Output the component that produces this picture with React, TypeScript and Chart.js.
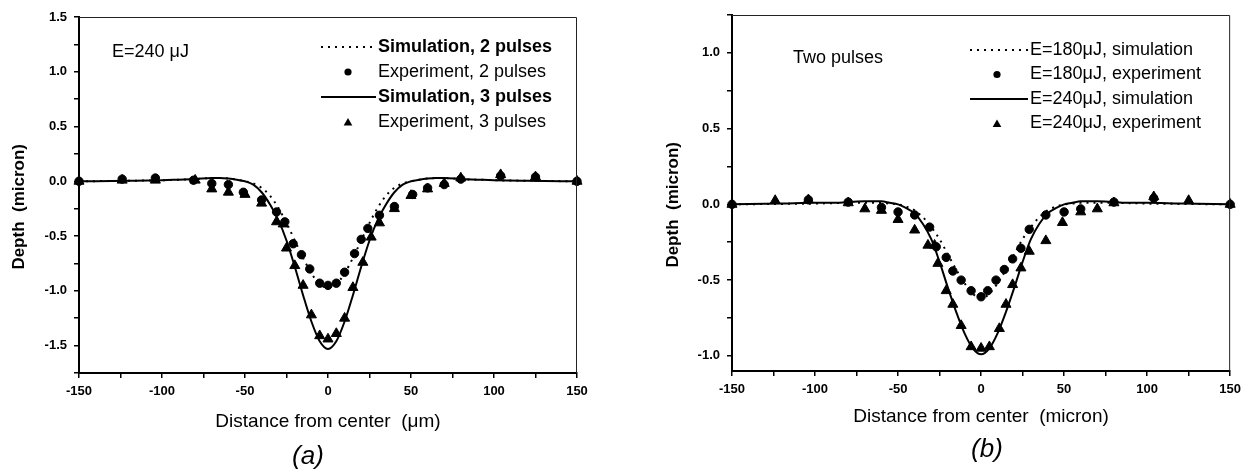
import React, { useEffect, useRef } from 'react';
import { Chart, registerables } from 'chart.js';

Chart.register(...registerables);

const FONT = "'Liberation Sans', Arial, Helvetica, sans-serif";

// ---------- Panel (a): E = 240 uJ ----------
const SIM_X_A = [-150, -120, -100, -90, -80, -70, -65, -60, -55, -50, -45, -40, -35, -30, -25, -20, -15, -10, -5, 0, 5, 10, 15, 20, 25, 30, 35, 40, 45, 50, 55, 60, 65, 70, 80, 90, 100, 120, 150];
const SIM2_Y_A = [0, 0.005, 0.01, 0.015, 0.02, 0.03, 0.03, 0.025, 0.015, 0, -0.02, -0.06, -0.13, -0.24, -0.38, -0.54, -0.7, -0.84, -0.94, -0.97, -0.94, -0.84, -0.7, -0.54, -0.38, -0.24, -0.13, -0.06, -0.02, 0, 0.015, 0.025, 0.03, 0.03, 0.02, 0.015, 0.01, 0.005, 0];
const SIM3_Y_A = [0, 0.005, 0.01, 0.015, 0.02, 0.03, 0.03, 0.025, 0.015, 0, -0.03, -0.1, -0.21, -0.35, -0.54, -0.78, -1.04, -1.28, -1.46, -1.53, -1.46, -1.28, -1.04, -0.78, -0.54, -0.35, -0.21, -0.1, -0.03, 0, 0.015, 0.025, 0.03, 0.03, 0.02, 0.015, 0.01, 0.005, 0];
const EXP2_X_A = [-150, -124, -104, -81, -70, -60, -51, -40, -31, -26, -21, -16, -11, -5, 0, 5, 10, 16, 20, 24, 31, 40, 51, 60, 70, 80, 104, 125, 150];
const EXP2_Y_A = [0, 0.02, 0.03, 0.01, -0.02, -0.03, -0.1, -0.17, -0.28, -0.37, -0.57, -0.67, -0.8, -0.93, -0.95, -0.93, -0.83, -0.66, -0.53, -0.43, -0.31, -0.23, -0.12, -0.06, -0.03, 0.02, 0.05, 0.04, 0];
const EXP3_X_A = [-150, -124, -104, -80, -70, -60, -50, -40, -31, -27, -25, -20, -15, -10, -5, 0, 5, 10, 15, 21, 26, 31, 40, 50, 60, 70, 80, 104, 125, 150];
const EXP3_Y_A = [0, 0.01, 0.01, 0.01, -0.07, -0.1, -0.12, -0.2, -0.37, -0.39, -0.61, -0.77, -0.95, -1.22, -1.41, -1.44, -1.39, -1.25, -0.97, -0.74, -0.51, -0.38, -0.25, -0.13, -0.07, -0.02, 0.03, 0.06, 0.04, 0];
const LABELS_A = ['Simulation, 2 pulses', 'Experiment, 2 pulses', 'Simulation, 3 pulses', 'Experiment, 3 pulses'];
const Y_MAJOR_A = [-1.5, -1.0, -0.5, 0, 0.5, 1.0, 1.5];

// ---------- Panel (b): two pulses ----------
const SIM_X_B = [-150, -120, -100, -90, -80, -70, -65, -60, -55, -50, -45, -40, -35, -30, -25, -20, -15, -10, -5, 0, 5, 10, 15, 20, 25, 30, 35, 40, 45, 50, 55, 60, 65, 70, 80, 90, 100, 120, 150];
const SIM180_Y_B = [0, 0.003, 0.005, 0.008, 0.01, 0.01, 0.01, 0.01, 0.005, 0, -0.015, -0.04, -0.085, -0.15, -0.23, -0.33, -0.43, -0.52, -0.59, -0.62, -0.59, -0.52, -0.43, -0.33, -0.23, -0.15, -0.085, -0.04, -0.015, 0, 0.005, 0.01, 0.01, 0.01, 0.01, 0.008, 0.005, 0.003, 0];
const SIM240_Y_B = [0, 0.005, 0.01, 0.01, 0.015, 0.02, 0.02, 0.02, 0.01, 0, -0.025, -0.06, -0.13, -0.23, -0.38, -0.55, -0.71, -0.85, -0.95, -0.99, -0.95, -0.85, -0.71, -0.55, -0.38, -0.23, -0.13, -0.06, -0.025, 0, 0.01, 0.02, 0.02, 0.02, 0.015, 0.01, 0.01, 0.005, 0];
const EXP180_X_B = [-150, -104, -80, -60, -50, -40, -31, -27, -21, -17, -12, -6, 0, 4, 9, 14, 19, 24, 29, 39, 50, 60, 80, 104, 150];
const EXP180_Y_B = [0, 0.03, 0.015, -0.02, -0.05, -0.07, -0.15, -0.28, -0.35, -0.44, -0.5, -0.57, -0.61, -0.57, -0.5, -0.43, -0.36, -0.29, -0.165, -0.07, -0.05, -0.03, 0.015, 0.04, 0];
const EXP240_X_B = [-150, -124, -104, -80, -70, -60, -50, -40, -32, -28, -26, -21, -17, -12, -6, 0, 5, 11, 15, 19, 24, 29, 39, 49, 60, 70, 80, 104, 125, 150];
const EXP240_Y_B = [0, 0.025, 0.03, 0.01, -0.03, -0.04, -0.1, -0.17, -0.27, -0.27, -0.39, -0.57, -0.66, -0.8, -0.94, -0.95, -0.94, -0.82, -0.66, -0.53, -0.42, -0.31, -0.24, -0.12, -0.05, -0.03, 0.01, 0.05, 0.025, 0];
const LABELS_B = ['E=180\u03bcJ, simulation', 'E=180\u03bcJ, experiment', 'E=240\u03bcJ, simulation', 'E=240\u03bcJ, experiment'];
const Y_MAJOR_B = [-1.0, -0.5, 0, 0.5, 1.0];

const X_MAJOR = [-150, -100, -50, 0, 50, 100, 150];

const CIRCLE_R = 4.2;
const TRI_R = 5.8;

const pts = (xs: number[], ys: number[]) => xs.map((x, i) => ({ x, y: ys[i] }));

const lineDs = (label: string, xs: number[], ys: number[], dotted: boolean) => ({
  label,
  data: pts(xs, ys),
  showLine: true,
  pointRadius: 0,
  borderColor: '#000',
  backgroundColor: '#000',
  borderWidth: 2,
  borderDash: dotted ? [2, 5] : [],
  cubicInterpolationMode: 'monotone',
});

const markDs = (label: string, xs: number[], ys: number[], style: string) => ({
  label,
  data: pts(xs, ys),
  showLine: false,
  pointStyle: style,
  pointRadius: style === 'triangle' ? TRI_R : CIRCLE_R,
  borderWidth: 1,
  borderColor: '#000',
  backgroundColor: '#000',
  clip: false,
});

const decor = {
  id: 'decor',
  afterDatasetsDraw(chart: any, _args: any, opts: any) {
    const { ctx, chartArea: a } = chart;
    ctx.save();
    // top & right frame
    ctx.strokeStyle = '#222';
    ctx.lineWidth = 1;
    ctx.setLineDash([]);
    ctx.beginPath();
    ctx.moveTo(a.left, a.top + 0.5);
    ctx.lineTo(a.right - 0.5, a.top + 0.5);
    ctx.lineTo(a.right - 0.5, a.bottom);
    ctx.stroke();

    ctx.fillStyle = '#000';
    ctx.textBaseline = 'middle';
    ctx.textAlign = 'left';
    ctx.font = `18px ${FONT}`;
    ctx.fillText(opts.note, opts.noteX, opts.noteY);

    // legend
    chart.data.datasets.forEach((ds: any, i: number) => {
      const y = opts.legY + i * opts.legDy;
      ctx.strokeStyle = '#000';
      ctx.fillStyle = '#000';
      if (ds.showLine) {
        ctx.lineWidth = 2;
        ctx.setLineDash(ds.borderDash || []);
        ctx.beginPath();
        ctx.moveTo(opts.lineX0, y);
        ctx.lineTo(opts.lineX1, y);
        ctx.stroke();
        ctx.setLineDash([]);
      } else if (ds.pointStyle === 'circle') {
        ctx.beginPath();
        ctx.arc(opts.markX, y, 3.6, 0, Math.PI * 2);
        ctx.fill();
      } else {
        const r = 5;
        ctx.beginPath();
        for (let k = 0; k < 3; k++) {
          const ang = (k * 2 * Math.PI) / 3;
          const px = opts.markX + Math.sin(ang) * r;
          const py = y + 1 - Math.cos(ang) * r;
          if (k === 0) ctx.moveTo(px, py); else ctx.lineTo(px, py);
        }
        ctx.closePath();
        ctx.fill();
      }
      ctx.font = `${opts.boldSim && ds.showLine ? 'bold ' : ''}18px ${FONT}`;
      ctx.fillText(ds.label, opts.textX, y);
    });

    ctx.font = `italic 26px ${FONT}`;
    ctx.textAlign = 'center';
    ctx.fillText(opts.panel, opts.panelX, opts.panelY);
    ctx.restore();
  },
};

const isIn = (list: number[], v: number) => list.some((m) => Math.abs(m - v) < 1e-6);

function makeConfig(p: any) {
  return {
    type: 'scatter',
    data: { datasets: p.datasets },
    plugins: [decor],
    options: {
      responsive: false,
      animation: false,
      devicePixelRatio: 1,
      layout: { padding: { left: 0, top: p.top, right: p.right, bottom: 0 } },
      plugins: {
        legend: { display: false },
        tooltip: { enabled: false },
        decor: p.decor,
      },
      scales: {
        x: {
          type: 'linear',
          min: -150,
          max: 150,
          afterFit: (s: any) => { s.height = p.xHeight; },
          ticks: {
            stepSize: 25,
            autoSkip: false,
            maxRotation: 0,
            padding: 6,
            color: '#000',
            font: { family: FONT, size: 13, weight: 'bold' },
            callback: (v: number) => (isIn(X_MAJOR, v) ? String(Math.round(v)) : ''),
          },
          grid: { drawOnChartArea: false, drawTicks: true, tickLength: 5, color: '#000', lineWidth: 1.5 },
          border: { display: true, color: '#000', width: 2 },
          title: {
            display: true,
            text: p.xTitle,
            color: '#000',
            font: { family: FONT, size: 19 },
            padding: { top: 0, bottom: p.xTitlePad },
          },
        },
        y: {
          type: 'linear',
          min: p.yMin,
          max: p.yMax,
          afterFit: (s: any) => { s.width = p.yWidth; },
          ticks: {
            stepSize: 0.25,
            includeBounds: false,
            autoSkip: false,
            padding: 7,
            color: '#000',
            font: { family: FONT, size: 13, weight: 'bold' },
            callback: (v: number) => (isIn(p.yMajor, v) ? (Math.abs(v) < 1e-9 ? 0 : v).toFixed(1) : ''),
          },
          grid: { drawOnChartArea: false, drawTicks: true, tickLength: 5, color: '#000', lineWidth: 1.5 },
          border: { display: true, color: '#000', width: 2 },
          title: {
            display: true,
            text: 'Depth  (micron)     ',
            color: '#000',
            font: { family: FONT, size: 17, weight: 'bold' },
            padding: { top: p.yTitlePad, bottom: 0 },
          },
        },
      },
    },
  };
}

function Plot({ left, width, params }: { left: number; width: number; params: any }) {
  const ref = useRef<HTMLCanvasElement>(null);
  useEffect(() => {
    const chart = new Chart(ref.current as HTMLCanvasElement, makeConfig(params) as any);
    return () => chart.destroy();
  }, []);
  return (
    <canvas
      ref={ref}
      width={width}
      height={472}
      style={{ position: 'absolute', left, top: 0, width, height: 472 }}
    />
  );
}

const paramsA = {
  datasets: [
    lineDs(LABELS_A[0], SIM_X_A, SIM2_Y_A, true),
    markDs(LABELS_A[1], EXP2_X_A, EXP2_Y_A, 'circle'),
    lineDs(LABELS_A[2], SIM_X_A, SIM3_Y_A, false),
    markDs(LABELS_A[3], EXP3_X_A, EXP3_Y_A, 'triangle'),
  ],
  top: 17,
  right: 43,
  xHeight: 99,
  yWidth: 79,
  yMin: -1.75,
  yMax: 1.5,
  yMajor: Y_MAJOR_A,
  xTitle: 'Distance from center  (\u03bcm)',
  xTitlePad: 39,
  yTitlePad: 9,
  decor: {
    note: 'E=240 \u03bcJ', noteX: 112, noteY: 52,
    legY: 47, legDy: 25, lineX0: 321, lineX1: 376, markX: 348, textX: 378, boldSim: true,
    panel: '(a)', panelX: 308, panelY: 457,
  },
};

const paramsB = {
  datasets: [
    lineDs(LABELS_B[0], SIM_X_B, SIM180_Y_B, true),
    markDs(LABELS_B[1], EXP180_X_B, EXP180_Y_B, 'circle'),
    lineDs(LABELS_B[2], SIM_X_B, SIM240_Y_B, false),
    markDs(LABELS_B[3], EXP240_X_B, EXP240_Y_B, 'triangle'),
  ],
  top: 15,
  right: 15,
  xHeight: 101,
  yWidth: 112,
  yMin: -1.1,
  yMax: 1.25,
  yMajor: Y_MAJOR_B,
  xTitle: 'Distance from center  (micron)',
  xTitlePad: 44,
  yTitlePad: 43,
  decor: {
    note: 'Two pulses', noteX: 173, noteY: 58,
    legY: 50, legDy: 24.5, lineX0: 350, lineX1: 408, markX: 377, textX: 410, boldSim: false,
    panel: '(b)', panelX: 367, panelY: 450,
  },
};

export default function App() {
  return (
    <div style={{ position: 'absolute', left: 0, top: 0, width: 1247, height: 472, background: '#fff' }}>
      <Plot left={0} width={620} params={paramsA} />
      <Plot left={620} width={627} params={paramsB} />
    </div>
  );
}
